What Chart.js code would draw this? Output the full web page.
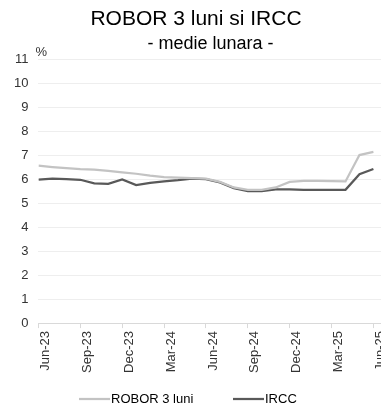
<!DOCTYPE html>
<html>
<head>
<meta charset="utf-8">
<script src="https://cdn.jsdelivr.net/npm/chart.js@4.4.1/dist/chart.umd.min.js"></script>
<style>
  html, body { margin: 0; padding: 0; background: #fff; overflow: hidden; }
  #wrap { position: relative; width: 392px; height: 410px; }
</style>
</head>
<body>
<div id="wrap"><canvas id="c"></canvas></div>
<script>
const months = ['Jun-23','Jul-23','Aug-23','Sep-23','Oct-23','Nov-23','Dec-23',
  'Jan-24','Feb-24','Mar-24','Apr-24','May-24','Jun-24','Jul-24','Aug-24','Sep-24',
  'Oct-24','Nov-24','Dec-24','Jan-25','Feb-25','Mar-25','Apr-25','May-25','Jun-25'];
const robor = [6.56, 6.50, 6.45, 6.41, 6.39, 6.34, 6.28, 6.22, 6.14, 6.08, 6.06, 6.04, 6.02,
  5.88, 5.65, 5.55, 5.55, 5.65, 5.88, 5.92, 5.92, 5.91, 5.90, 7.00, 7.13];
const ircc = [5.98, 6.02, 6.00, 5.97, 5.82, 5.80, 5.98, 5.75, 5.84, 5.90, 5.95, 6.02, 6.00,
  5.86, 5.62, 5.50, 5.50, 5.57, 5.57, 5.55, 5.55, 5.55, 5.55, 6.20, 6.42];
const tickLabels = ['Jun-23','Sep-23','Dec-23','Mar-24','Jun-24','Sep-24','Dec-24','Mar-25','Jun-25'];
const yTicks = [0,1,2,3,4,5,6,7,8,9,10,11];
const seriesNames = ['ROBOR 3 luni', 'IRCC'];
const seriesColors = ['#c3c3c3', '#595959'];
const titleLine1 = 'ROBOR 3 luni si IRCC';
const titleLine2 = '- medie lunara -';
const unitLabel = '%';

const FONT = "'Liberation Sans', Arial, sans-serif";

const decorPlugin = {
  id: 'decor',
  beforeDraw(chart) {
    const ctx = chart.ctx;
    ctx.save();
    ctx.fillStyle = '#fff';
    ctx.fillRect(0, 0, chart.width, chart.height);
    ctx.restore();
  },
  afterDraw(chart) {
    const ctx = chart.ctx;
    const ca = chart.chartArea;
    ctx.save();
    // title
    ctx.fillStyle = '#000';
    ctx.textAlign = 'center';
    ctx.textBaseline = 'alphabetic';
    ctx.font = '21px ' + FONT;
    ctx.fillText(titleLine1, 196, 25);
    ctx.font = '18px ' + FONT;
    ctx.fillText(titleLine2, 210.5, 49);
    // unit
    ctx.font = '13px ' + FONT;
    ctx.fillStyle = '#333';
    ctx.textAlign = 'left';
    ctx.fillText(unitLabel, ca.left - 3, ca.top - 3);
    // legend
    const ly = 399;
    const items = [{ x: 79 }, { x: 233 }];
    ctx.font = '13px ' + FONT;
    ctx.textBaseline = 'middle';
    items.forEach((it, i) => {
      ctx.strokeStyle = seriesColors[i];
      ctx.lineWidth = 2.25;
      ctx.beginPath();
      ctx.moveTo(it.x, ly);
      ctx.lineTo(it.x + 31, ly);
      ctx.stroke();
      ctx.fillStyle = '#000';
      ctx.fillText(seriesNames[i], it.x + 32, ly);
    });
    ctx.restore();
  }
};

const toPoints = arr => arr.map((v, i) => ({ x: i, y: v }));

new Chart(document.getElementById('c'), {
  type: 'line',
  data: {
    datasets: [
      { label: seriesNames[0], data: toPoints(robor), borderColor: seriesColors[0], backgroundColor: seriesColors[0],
        borderWidth: 2.25, pointRadius: 0, tension: 0 },
      { label: seriesNames[1], data: toPoints(ircc), borderColor: seriesColors[1], backgroundColor: seriesColors[1],
        borderWidth: 2.25, pointRadius: 0, tension: 0 }
    ]
  },
  options: {
    responsive: true,
    maintainAspectRatio: false,
    animation: false,
    layout: { padding: { left: 4, right: 0, top: 59, bottom: 34 } },
    plugins: {
      title: { display: false },
      legend: { display: false },
      tooltip: { enabled: false }
    },
    scales: {
      x: {
        type: 'linear', min: 0, max: 24.8,
        afterBuildTicks(scale) { scale.ticks = tickLabels.map((t, k) => ({ value: k * 3 })); },
        ticks: {
          autoSkip: false, minRotation: 90, maxRotation: 90, labelOffset: 7, padding: 3,
          color: '#333', font: { family: FONT, size: 13 },
          callback(v) { return months[v]; }
        },
        grid: { drawOnChartArea: false, drawTicks: true, tickLength: 5, color: '#d9d9d9' },
        border: { color: '#d9d9d9', width: 1 }
      },
      y: {
        min: 0, max: 11,
        afterBuildTicks(scale) { scale.ticks = yTicks.map(v => ({ value: v })); },
        ticks: { color: '#333', font: { family: FONT, size: 13 }, padding: 10 },
        grid: { color: '#eeeeee', drawTicks: false },
        border: { display: false }
      }
    }
  },
  plugins: [decorPlugin]
});
</script>
</body>
</html>
